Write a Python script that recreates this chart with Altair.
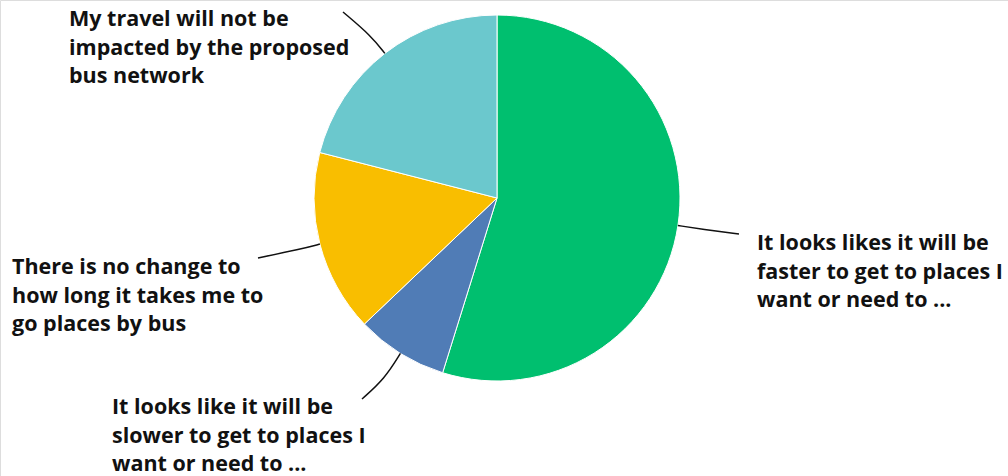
import math
import altair as alt
import pandas as pd

# ---- data ----
categories = [
    "It looks likes it will be faster to get to places I want or need to ...",
    "It looks like it will be slower to get to places I want or need to ...",
    "There is no change to how long it takes me to go places by bus",
    "My travel will not be impacted by the proposed bus network",
]
values = [54.8, 8.1, 16.1, 21.0]
label_lines = [
    ["It looks likes it will be", "faster to get to places I", "want or need to ..."],
    ["It looks like it will be", "slower to get to places I", "want or need to ..."],
    ["There is no change to", "how long it takes me to", "go places by bus"],
    ["My travel will not be", "impacted by the proposed", "bus network"],
]
colors = ["#00bf6f", "#507cb6", "#f9be00", "#6bc8cd"]

# ---- layout ----
W, H = 1008, 476
CX, CY, R = 497, 198, 183
leader_end = [(739, 234), (362, 399), (258, 258), (343, 12)]
leader_ext = [25, 30, 20, 22]
label_pos = [(757, 250), (112, 414), (12, 274), (69, 26)]
FONT = "Open Sans"
FONT_SIZE = 21.5
LINE_H = 28.5

total = sum(values)
pie_df = pd.DataFrame({"cat": categories, "value": values, "idx": range(len(values))})

# leader lines computed from slice mid-angles
rows = []
cum = 0.0
for i, v in enumerate(values):
    mid = (cum + v / 2) / total * 2 * math.pi
    cum += v
    dx, dy = math.sin(mid), -math.cos(mid)
    p0 = (CX + R * dx, CY + R * dy)
    p1 = (CX + (R + leader_ext[i]) * dx, CY + (R + leader_ext[i]) * dy)
    p2 = leader_end[i]
    for s, p in enumerate([p0, p1, p2]):
        rows.append({"cat": categories[i], "seq": s, "x": p[0], "y": p[1]})
line_df = pd.DataFrame(rows)

text_df = pd.DataFrame({
    "cat": categories,
    "label": ["\n".join(l) for l in label_lines],
    "x": [p[0] for p in label_pos],
    "y": [p[1] for p in label_pos],
})

xs = alt.Scale(domain=[0, W], range=[0, W], nice=False, zero=False)
ys = alt.Scale(domain=[0, H], range=[0, H], nice=False, zero=False)

pie = alt.Chart(pie_df).mark_arc(outerRadius=R, stroke="white", strokeWidth=1).encode(
    theta=alt.Theta("value:Q", stack=True),
    order=alt.Order("idx:Q"),
    color=alt.Color("cat:N", scale=alt.Scale(domain=categories, range=colors), legend=None),
    x=alt.value(CX),
    y=alt.value(CY),
)

lines = alt.Chart(line_df).mark_line(interpolate="basis", color="#111111", strokeWidth=1.5).encode(
    x=alt.X("x:Q", scale=xs, axis=None),
    y=alt.Y("y:Q", scale=ys, axis=None),
    detail="cat:N",
    order="seq:Q",
)

texts = alt.Chart(text_df).mark_text(
    align="left", baseline="alphabetic", font=FONT, fontSize=FONT_SIZE,
    fontWeight="bold", color="#111111", lineBreak="\n", lineHeight=LINE_H,
).encode(
    x=alt.X("x:Q", scale=xs, axis=None),
    y=alt.Y("y:Q", scale=ys, axis=None),
    text="label:N",
)

chart = alt.layer(pie, lines, texts).properties(
    width=W, height=H, autosize=alt.AutoSizeParams(type="none"), padding=0
).configure_view(stroke=None).configure(background="white")

chart.save("out.html", embed_options={"renderer": "svg", "actions": False})
